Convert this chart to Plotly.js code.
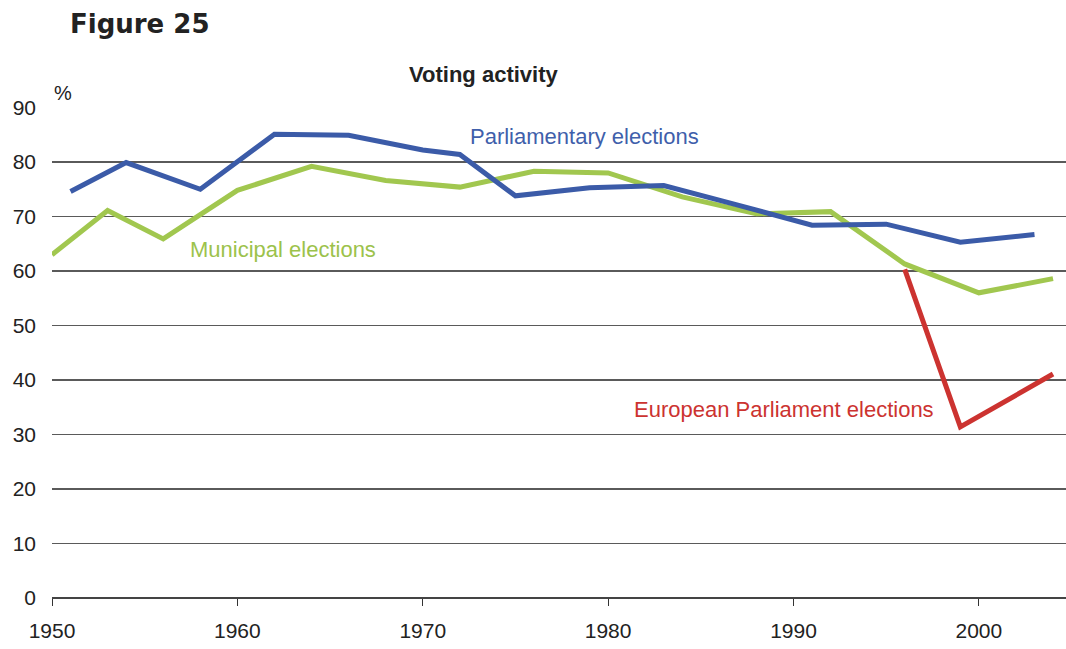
<!DOCTYPE html>
<html>
<head>
<meta charset="utf-8">
<script src="https://cdn.plot.ly/plotly-3.0.1.min.js"></script>
<style>html,body{margin:0;padding:0;background:#fff;}#chart{width:1066px;height:649px;}</style>
</head>
<body>
<div id="chart"></div>
<script>
// Data
const parlYears = [1951, 1954, 1958, 1962, 1966, 1970, 1972, 1975, 1979, 1983, 1987, 1991, 1995, 1999, 2003];
const parlValues = [74.6, 79.9, 75.0, 85.1, 84.9, 82.2, 81.4, 73.8, 75.3, 75.7, 72.1, 68.4, 68.6, 65.3, 66.7];
const munYears = [1950, 1953, 1956, 1960, 1964, 1968, 1972, 1976, 1980, 1984, 1988, 1992, 1996, 2000, 2004];
const munValues = [63.0, 71.1, 65.9, 74.8, 79.2, 76.6, 75.4, 78.3, 78.0, 73.6, 70.5, 70.9, 61.3, 56.0, 58.6];
const euYears = [1996, 1999, 2004];
const euValues = [60.3, 31.4, 41.1];
const seriesNames = ["Parliamentary elections", "Municipal elections", "European Parliament elections"];
const xTickVals = [1950, 1960, 1970, 1980, 1990, 2000];
const yTickVals = [0, 10, 20, 30, 40, 50, 60, 70, 80, 90];

const sans = "Liberation Sans, Arial, sans-serif";
const blue = "#3b5ba8", green = "#a1c74f", red = "#cc3330";

const traces = [
  {x: parlYears, y: parlValues, name: seriesNames[0], mode: "lines", line: {color: blue, width: 5}},
  {x: munYears, y: munValues, name: seriesNames[1], mode: "lines", line: {color: green, width: 5}},
  {x: euYears, y: euValues, name: seriesNames[2], mode: "lines", line: {color: red, width: 5}}
];
const ordered = [traces[1], traces[0], traces[2]];

const layout = {
  width: 1066, height: 649,
  margin: {l: 52, r: 0, t: 107, b: 51},
  paper_bgcolor: "#fff", plot_bgcolor: "#fff",
  showlegend: false,
  font: {family: sans, color: "#222", size: 21},
  xaxis: {
    range: [1950, 2004.7], tickvals: xTickVals, ticktext: xTickVals.map(String),
    ticks: "outside", ticklen: 7, tickwidth: 1, tickcolor: "#333",
    showgrid: false, zeroline: false, showline: false,
    tickfont: {family: sans, size: 21, color: "#222"}, ticklabelstandoff: 7
  },
  yaxis: {
    range: [0, 90.1], tickvals: yTickVals, ticktext: yTickVals.map(String),
    showgrid: true, gridcolor: "#5a5a5a", gridwidth: 1.5,
    zeroline: true, zerolinecolor: "#444", zerolinewidth: 2,
    showline: false, ticks: "",
    tickfont: {family: sans, size: 21, color: "#222"}, ticklabelstandoff: 15
  },
  annotations: [
    {xref: "paper", yref: "paper", x: 0.0, y: 1.029, xanchor: "left", yanchor: "middle",
     text: "%", showarrow: false, font: {family: sans, size: 20, color: "#222"}},
    {xref: "paper", yref: "paper", x: 0.426, y: 1.067, xanchor: "center", yanchor: "middle",
     text: "<b>Voting activity</b>", showarrow: false, font: {family: sans, size: 22, color: "#222"}},
    {x: 1978.75, y: 84.6, text: seriesNames[0], showarrow: false, xanchor: "center", yanchor: "middle",
     font: {family: sans, size: 22, color: "#3f5fab"}},
    {x: 1962.46, y: 63.9, text: seriesNames[1], showarrow: false, xanchor: "center", yanchor: "middle",
     font: {family: sans, size: 22, color: "#9cc24b"}},
    {x: 1989.5, y: 34.6, text: seriesNames[2], showarrow: false, xanchor: "center", yanchor: "middle",
     font: {family: sans, size: 22, color: "#cc3330"}}
  ],
  title: {text: "<b>Figure 25</b>", x: 70/1066, xanchor: "left", xref: "container",
          y: 1 - 24/649, yanchor: "middle", yref: "container",
          font: {family: "DejaVu Sans, Verdana, sans-serif", size: 26, color: "#222"}}
};

Plotly.newPlot("chart", ordered, layout, {staticPlot: true, displayModeBar: false});
</script>
</body>
</html>
